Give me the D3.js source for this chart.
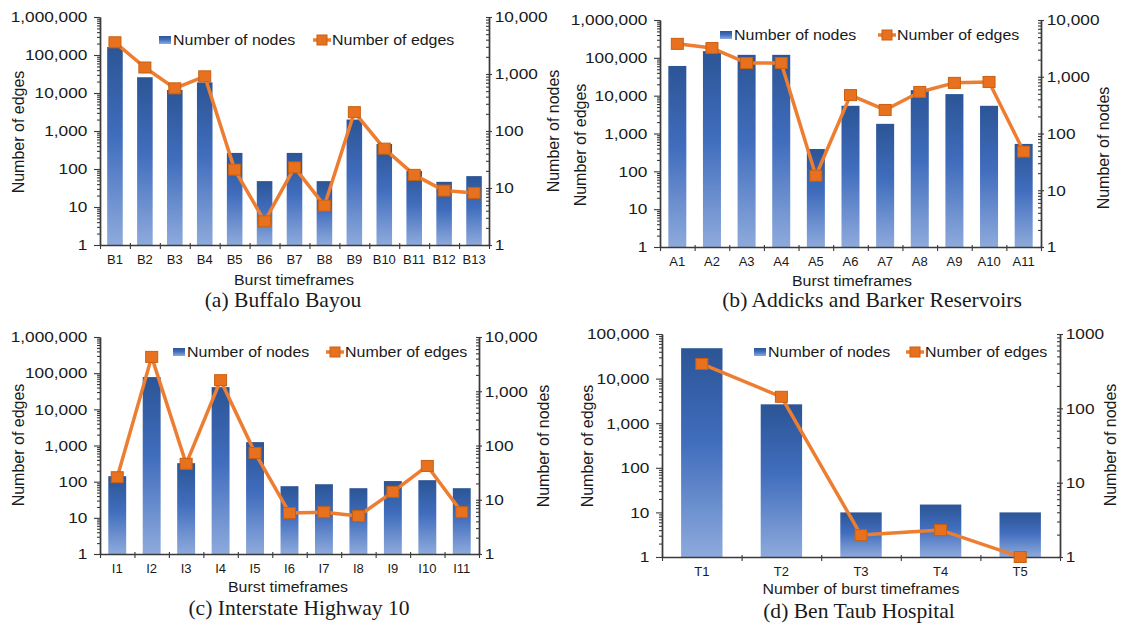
<!DOCTYPE html>
<html>
<head>
<meta charset="utf-8">
<script src="https://cdn.jsdelivr.net/npm/d3@7"></script>
<style>
  body { margin: 0; background: #fff; }
  svg { display: block; }
</style>
</head>
<body>
<script>
// (a) Buffalo Bayou
var bayouCats  = ["B1","B2","B3","B4","B5","B6","B7","B8","B9","B10","B11","B12","B13"];
var bayouNodes = [162000, 26000, 12000, 19000, 265, 48, 265, 48, 2000, 455, 89, 46, 65];
var bayouEdges = [3600, 1300, 560, 910, 21, 2.6, 23, 4.9, 214, 49, 17, 9, 8.2];

// (b) Addicks and Barker Reservoirs
var addicksCats  = ["A1","A2","A3","A4","A5","A6","A7","A8","A9","A10","A11"];
var addicksNodes = [61000, 150000, 120000, 120000, 390, 5400, 1800, 14000, 11000, 5400, 530];
var addicksEdges = [3800, 3200, 1750, 1750, 18, 475, 260, 540, 780, 810, 48];

// (c) Interstate Highway 10
var highwayCats  = ["I1","I2","I3","I4","I5","I6","I7","I8","I9","I10","I11"];
var highwayNodes = [142, 78000, 325, 41000, 1240, 75, 85, 66, 104, 110, 66];
var highwayEdges = [26, 4300, 46, 1600, 73, 5.7, 5.9, 5.0, 14, 42, 5.9];

// (d) Ben Taub Hospital
var hospitalCats  = ["T1","T2","T3","T4","T5"];
var hospitalNodes = [48000, 2650, 10, 15, 10];
var hospitalEdges = [395, 143, 1.97, 2.3, 1];

var legendLabels = ["Number of nodes", "Number of edges"];

var FONT = "'Liberation Sans', Arial, sans-serif";
var SERIF = "'Liberation Serif', 'Times New Roman', serif";
var AXIS_COLOR = "#3a3a3a";
var LINE_COLOR = "#ed7d31";

var svg = d3.select("body").append("svg")
    .attr("width", 1124).attr("height", 628);

var grad = svg.append("defs").append("linearGradient")
    .attr("id", "barGrad").attr("x1", 0).attr("y1", 0).attr("x2", 0).attr("y2", 1);
grad.append("stop").attr("offset", "0%").attr("stop-color", "#2c5596");
grad.append("stop").attr("offset", "45%").attr("stop-color", "#406dbd");
grad.append("stop").attr("offset", "100%").attr("stop-color", "#8eaadc");

var panels = [
    {cats: bayouCats, bars: bayouNodes, line: bayouEdges,
     x0: 100, x1: 489, yTop: 17, yBot: 245, leftMax: 6, rightMax: 4, rightFmt: d3.format(","),
     leg: {x1: 159, x2: 313, y: 40}, leftTitle: {x: 18, y: 132}, rightTitle: {x: 553, y: 131},
     xTitle: {text: "Burst timeframes", x: 294, y: 285},
     caption: {text: "(a) Buffalo Bayou", x: 283, y: 307}},
    {cats: addicksCats, bars: addicksNodes, line: addicksEdges,
     x0: 660, x1: 1041, yTop: 20, yBot: 247, leftMax: 6, rightMax: 4, rightFmt: d3.format(","),
     leg: {x1: 720, x2: 878, y: 35}, leftTitle: {x: 580, y: 145}, rightTitle: {x: 1103, y: 148},
     xTitle: {text: "Burst timeframes", x: 852, y: 286},
     caption: {text: "(b) Addicks and Barker Reservoirs", x: 872, y: 307}},
    {cats: highwayCats, bars: highwayNodes, line: highwayEdges,
     x0: 100, x1: 479, yTop: 337, yBot: 554, leftMax: 6, rightMax: 4, rightFmt: d3.format(","),
     leg: {x1: 173, x2: 326, y: 352}, leftTitle: {x: 18, y: 445}, rightTitle: {x: 543, y: 446},
     xTitle: {text: "Burst timeframes", x: 288, y: 592},
     caption: {text: "(c) Interstate Highway 10", x: 299, y: 615}},
    {cats: hospitalCats, bars: hospitalNodes, line: hospitalEdges,
     x0: 662, x1: 1060, yTop: 334, yBot: 557, leftMax: 5, rightMax: 3, rightFmt: d3.format("d"),
     leg: {x1: 754, x2: 906, y: 352}, leftTitle: {x: 587, y: 446}, rightTitle: {x: 1110, y: 445},
     xTitle: {text: "Number of burst timeframes", x: 861, y: 594},
     caption: {text: "(d) Ben Taub Hospital", x: 859, y: 618}}
];

// text drawn at (x,y) with a horizontal stretch like the original picture
function stretchedText(g, x, y, str, size, k, anchor, family) {
    return g.append("text")
        .attr("transform", "translate(" + x + "," + y + ") scale(" + k + ",1)")
        .attr("text-anchor", anchor || "start")
        .attr("font-family", family || FONT)
        .attr("font-size", size)
        .attr("fill", "#1a1a1a")
        .text(str);
}

function minorValues(decades) {
    var out = [];
    for (var d = 0; d < decades; d++) {
        for (var m = 2; m <= 9; m++) out.push(m * Math.pow(10, d));
    }
    return out;
}

function majorValues(decades) {
    return d3.range(0, decades + 1).map(function(d) { return Math.pow(10, d); });
}

function styleAxis(g) {
    g.selectAll("path.domain").attr("stroke", AXIS_COLOR).attr("stroke-width", 1.4);
    g.selectAll(".tick line").attr("stroke", AXIS_COLOR).attr("stroke-width", 1.1);
}

panels.forEach(function(p) {
    var g = svg.append("g");

    var x = d3.scaleBand().domain(p.cats).range([p.x0, p.x1])
        .paddingInner(0.48).paddingOuter(0.24);
    var xEdge = d3.scaleLinear().domain([0, p.cats.length]).range([p.x0, p.x1]);
    var yL = d3.scaleLog().domain([1, Math.pow(10, p.leftMax)]).range([p.yBot, p.yTop]);
    var yR = d3.scaleLog().domain([1, Math.pow(10, p.rightMax)]).range([p.yBot, p.yTop]);

    // bars
    g.selectAll("rect.bar").data(p.bars).enter().append("rect")
        .attr("class", "bar")
        .attr("x", function(d, i) { return x(p.cats[i]); })
        .attr("width", x.bandwidth())
        .attr("y", function(d) { return yL(d); })
        .attr("height", function(d) { return p.yBot - yL(d); })
        .attr("fill", "url(#barGrad)");

    // left axis
    var leftMinor = g.append("g").attr("transform", "translate(" + p.x0 + ",0)")
        .call(d3.axisLeft(yL).tickValues(minorValues(p.leftMax)).tickSize(3).tickSizeOuter(0).tickFormat(""));
    styleAxis(leftMinor);
    var leftMajor = g.append("g").attr("transform", "translate(" + p.x0 + ",0)")
        .call(d3.axisLeft(yL).tickValues(majorValues(p.leftMax)).tickSize(6).tickSizeOuter(0)
            .tickPadding(5).tickFormat(d3.format(",")));
    styleAxis(leftMajor);
    leftMajor.selectAll("text").attr("font-family", FONT).attr("font-size", 15)
        .attr("fill", "#1a1a1a").attr("transform", "scale(1.15,1)");

    // right axis
    var rightMinor = g.append("g").attr("transform", "translate(" + p.x1 + ",0)")
        .call(d3.axisLeft(yR).tickValues(minorValues(p.rightMax)).tickSize(3).tickSizeOuter(0).tickFormat(""));
    styleAxis(rightMinor);
    var rightMajor = g.append("g").attr("transform", "translate(" + p.x1 + ",0)")
        .call(d3.axisRight(yR).tickValues(majorValues(p.rightMax)).tickSize(3).tickSizeOuter(0)
            .tickPadding(2).tickFormat(p.rightFmt));
    styleAxis(rightMajor);
    rightMajor.selectAll(".tick line").attr("x1", -3);
    rightMajor.selectAll("text").attr("font-family", FONT).attr("font-size", 15)
        .attr("fill", "#1a1a1a").attr("transform", "scale(1.15,1)");

    // x axis
    var xTicks = g.append("g").attr("transform", "translate(0," + p.yBot + ")")
        .call(d3.axisBottom(xEdge).tickValues(d3.range(0, p.cats.length + 1)).tickSize(4)
            .tickSizeOuter(0).tickFormat(""));
    styleAxis(xTicks);
    xTicks.selectAll(".tick line").attr("y1", -2);
    var xLabels = g.append("g").attr("transform", "translate(0," + p.yBot + ")")
        .call(d3.axisBottom(x).tickSize(0).tickPadding(10));
    xLabels.select("path.domain").remove();
    xLabels.selectAll("text").attr("font-family", FONT).attr("font-size", 13).attr("fill", "#1a1a1a");

    // line series
    var lineGen = d3.line()
        .x(function(d, i) { return x(p.cats[i]) + x.bandwidth() / 2; })
        .y(function(d) { return yR(d); });
    g.append("path").datum(p.line)
        .attr("d", lineGen)
        .attr("fill", "none")
        .attr("stroke", LINE_COLOR)
        .attr("stroke-width", 3.5)
        .attr("stroke-linejoin", "round");
    g.selectAll("rect.marker").data(p.line).enter().append("rect")
        .attr("class", "marker")
        .attr("x", function(d, i) { return x(p.cats[i]) + x.bandwidth() / 2 - 6; })
        .attr("y", function(d) { return yR(d) - 5.5; })
        .attr("width", 12).attr("height", 11)
        .attr("fill", "#e8711f").attr("stroke", "#c9600f").attr("stroke-width", 1);

    // legend
    var leg = g.append("g");
    leg.append("rect").attr("x", p.leg.x1).attr("y", p.leg.y - 4).attr("width", 12).attr("height", 8)
        .attr("fill", "url(#barGrad)");
    stretchedText(leg, p.leg.x1 + 14, p.leg.y + 5, legendLabels[0], 14, 1.14);
    leg.append("line").attr("x1", p.leg.x2).attr("x2", p.leg.x2 + 18)
        .attr("y1", p.leg.y).attr("y2", p.leg.y)
        .attr("stroke", LINE_COLOR).attr("stroke-width", 3.5);
    leg.append("rect").attr("x", p.leg.x2 + 4).attr("y", p.leg.y - 5).attr("width", 10).attr("height", 10)
        .attr("fill", "#e8711f").attr("stroke", "#c9600f").attr("stroke-width", 1);
    stretchedText(leg, p.leg.x2 + 19, p.leg.y + 5, legendLabels[1], 14, 1.14);

    // axis titles
    g.append("text")
        .attr("transform", "translate(" + p.leftTitle.x + "," + p.leftTitle.y + ") rotate(-90)")
        .attr("text-anchor", "middle").attr("dy", "0.35em")
        .attr("font-family", FONT).attr("font-size", 16).attr("fill", "#1a1a1a")
        .text("Number of edges");
    g.append("text")
        .attr("transform", "translate(" + p.rightTitle.x + "," + p.rightTitle.y + ") rotate(-90)")
        .attr("text-anchor", "middle").attr("dy", "0.35em")
        .attr("font-family", FONT).attr("font-size", 16).attr("fill", "#1a1a1a")
        .text("Number of nodes");
    stretchedText(g, p.xTitle.x, p.xTitle.y, p.xTitle.text, 15, 1.06, "middle");

    // caption
    stretchedText(g, p.caption.x, p.caption.y, p.caption.text, 20, 1.08, "middle", SERIF);
});
</script>
</body>
</html>
